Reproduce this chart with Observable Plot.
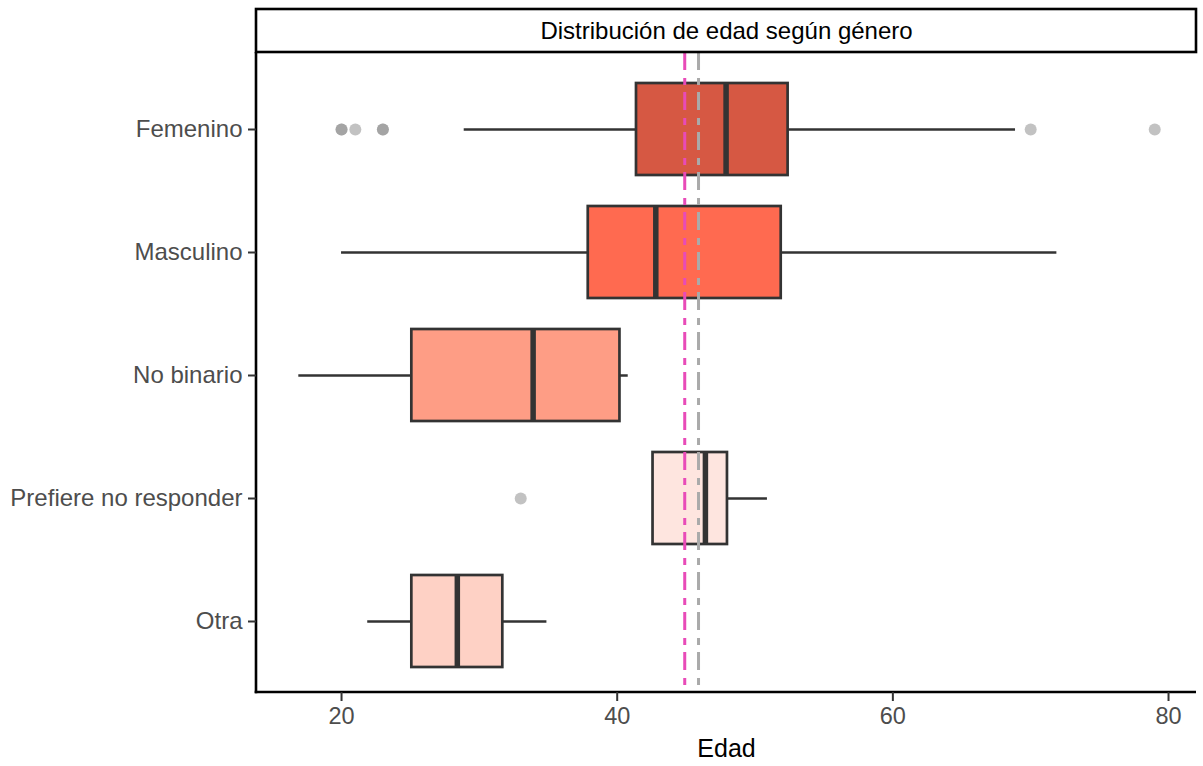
<!DOCTYPE html>
<html><head><meta charset="utf-8">
<script src="https://cdn.jsdelivr.net/npm/d3@7"></script>
<script src="https://cdn.jsdelivr.net/npm/@observablehq/plot@0.6"></script>
<style>html,body{margin:0;padding:0;background:#fff;} svg{display:block}</style>
</head><body><div id="chart"></div>
<script>
// ---- data ----
const categories = ["Femenino", "Masculino", "No binario", "Prefiere no responder", "Otra"];
const q1 = [41.4, 37.9, 25.1, 42.6, 25.1];
const medians = [47.9, 42.8, 33.9, 46.4, 28.4];
const q3 = [52.4, 51.9, 40.2, 48.0, 31.7];
const whiskerLow = [28.9, 20.0, 16.9, 42.6, 21.9];
const whiskerHigh = [68.9, 71.9, 40.8, 50.9, 34.9];
const boxFills = ["#d65843", "#ff6a50", "#fe9d85", "#fee5df", "#fed1c5"];
const outlierCategory = ["Femenino", "Femenino", "Femenino", "Femenino", "Femenino", "Femenino", "Femenino", "Prefiere no responder"];
const outlierValue = [20, 20, 21, 23, 23, 70, 79, 33];
const meanLine = [44.9];
const medianLine = [45.9];
const xTicks = [20, 40, 60, 80];
const title = "Distribución de edad según género";
const xLabel = "Edad";

const boxes = categories.map((c, i) => ({cat: c, q1: q1[i], med: medians[i], q3: q3[i], lo: whiskerLow[i], hi: whiskerHigh[i]}));
const outliers = outlierValue.map((v, i) => ({cat: outlierCategory[i], value: v}));

const font = "'Liberation Sans', Arial, Helvetica, sans-serif";

const stripHeight = 43;
const frameLines = (index, scales, values, dims) => {
  const g = d3.create("svg:g");
  const L = dims.marginLeft, R = dims.width - dims.marginRight;
  const T = dims.marginTop, B = dims.height - dims.marginBottom;
  // strip box
  g.append("rect").attr("x", L).attr("y", T - stripHeight).attr("width", R - L).attr("height", stripHeight)
    .attr("fill", "white").attr("stroke", "black").attr("stroke-width", 2.6);
  // axis lines
  g.append("line").attr("x1", L).attr("x2", L).attr("y1", T).attr("y2", B + 1.3)
    .attr("stroke", "black").attr("stroke-width", 2.6);
  g.append("line").attr("x1", L - 1.3).attr("x2", R).attr("y1", B).attr("y2", B)
    .attr("stroke", "black").attr("stroke-width", 2.6);
  return g.node();
};

const plot = Plot.plot({
  width: 1203,
  height: 766,
  marginLeft: 256,
  marginRight: 7,
  marginTop: 52,
  marginBottom: 74,
  style: {fontFamily: font, background: "white", overflow: "visible"},
  x: {domain: [13.83, 82.03], label: null},
  y: {type: "band", domain: categories, paddingInner: 0.25, paddingOuter: 0.225, insetTop: 2, insetBottom: -4, label: null},
  color: {type: "ordinal", domain: categories, range: boxFills},
  marks: [
    Plot.ruleY(boxes, {y: "cat", x1: "lo", x2: "hi", stroke: "#333333", strokeWidth: 2.7}),
    Plot.barX(boxes, {y: "cat", x1: "q1", x2: "q3", fill: "cat", stroke: "#333333", strokeWidth: 2.7}),
    Plot.tickX(boxes, {y: "cat", x: "med", stroke: "#333333", strokeWidth: 5.5}),
    Plot.dot(outliers, {y: "cat", x: "value", r: 6, fill: "#858585", fillOpacity: 0.5, stroke: "none"}),
    Plot.ruleX(meanLine, {stroke: "#e84bb8", strokeWidth: 3, strokeDasharray: "18,8,7,7"}),
    Plot.ruleX(medianLine, {stroke: "#aaaaaa", strokeWidth: 3, strokeDasharray: "18,8,7,7"}),
    frameLines,
    Plot.axisX({ticks: xTicks, tickFormat: d => String(d), tickSize: 9, tickPadding: 6, fontSize: 23.5,
      color: "#4d4d4d", stroke: "#333333", strokeWidth: 2, label: null}),
    Plot.axisY({tickSize: 8, tickPadding: 6, fontSize: 24, color: "#4d4d4d", stroke: "#333333", strokeWidth: 2, label: null}),
    Plot.text([title], {frameAnchor: "top", dy: -stripHeight / 2, text: d => d, fontSize: 24, fill: "black", lineAnchor: "middle"}),
    Plot.text([xLabel], {frameAnchor: "bottom", dy: 56, text: d => d, fontSize: 25, fill: "black", lineAnchor: "middle"})
  ]
});
document.getElementById("chart").appendChild(plot);
</script>
</body></html>
